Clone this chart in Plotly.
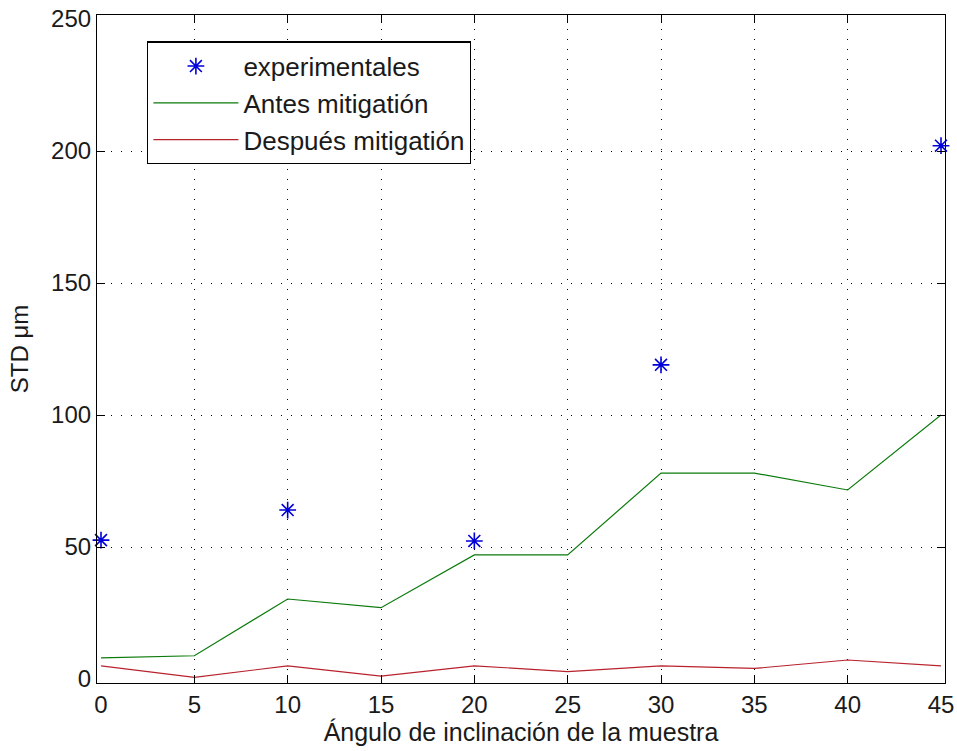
import plotly.graph_objects as go

angles = [0, 5, 10, 15, 20, 25, 30, 35, 40, 45]
antes = [8, 8.8, 30.3, 27, 47, 47, 78, 78, 71.6, 100]
despues = [5, 0.6, 5, 1.1, 5, 2.8, 5, 4, 7.2, 5]
exp_x = [0, 10, 20, 30, 45]
exp_y = [52.6, 64, 52.3, 119, 202]

xticks = [0, 5, 10, 15, 20, 25, 30, 35, 40, 45]
yticks = [0, 50, 100, 150, 200, 250]

FONT = "Liberation Sans, Arial, sans-serif"
fs = 24
TXT = "#1a1a1a"

fig = go.Figure()
fig.add_trace(go.Scatter(x=exp_x, y=exp_y, mode="markers", name="experimentales",
                         legendgroup="a",
                         marker=dict(symbol="asterisk-open", size=14, color="#0000d8",
                                     line=dict(color="#0000d8", width=1.6)),
                         cliponaxis=False))
fig.add_trace(go.Scatter(x=angles, y=antes, mode="lines", name="Antes mitigatión",
                         legendgroup="b",
                         line=dict(color="#0a7a0a", width=1.2)))
fig.add_trace(go.Scatter(x=angles, y=despues, mode="lines", name="Después mitigatión",
                         legendgroup="c",
                         line=dict(color="#b8222c", width=1.2)))

axis_common = dict(
    showline=True, linecolor="black", linewidth=1.2, mirror="ticks",
    ticks="inside", ticklen=8, tickcolor="black", tickwidth=1.2,
    showgrid=True, gridcolor="black", gridwidth=1, griddash="1px,9px",
    zeroline=False, tickfont=dict(family=FONT, size=fs, color=TXT),
)

fig.update_xaxes(range=[0, 45], tickvals=xticks, ticktext=[str(v) for v in xticks],
                 title=dict(text="Ángulo de inclinación de la muestra",
                            font=dict(family=FONT, size=25, color=TXT), standoff=4),
                 automargin=False, **axis_common)
fig.update_yaxes(range=[0, 250], tickvals=yticks, ticktext=[str(v) for v in yticks],
                 title=dict(text="STD μm", font=dict(family=FONT, size=fs, color=TXT),
                            standoff=19),
                 automargin=False, **axis_common)

fig.update_layout(
    width=957, height=751,
    margin=dict(l=101, r=16, t=19, b=72, pad=4),
    paper_bgcolor="white", plot_bgcolor="white",
    font=dict(family=FONT, size=fs, color=TXT),
    legend=dict(x=0.055, y=0.966, xanchor="left", yanchor="top",
                bgcolor="white", bordercolor="black", borderwidth=1.2,
                tracegroupgap=0, itemwidth=85,
                font=dict(family=FONT, size=26, color=TXT)),
    showlegend=True,
)

fig.write_html("out.html")
